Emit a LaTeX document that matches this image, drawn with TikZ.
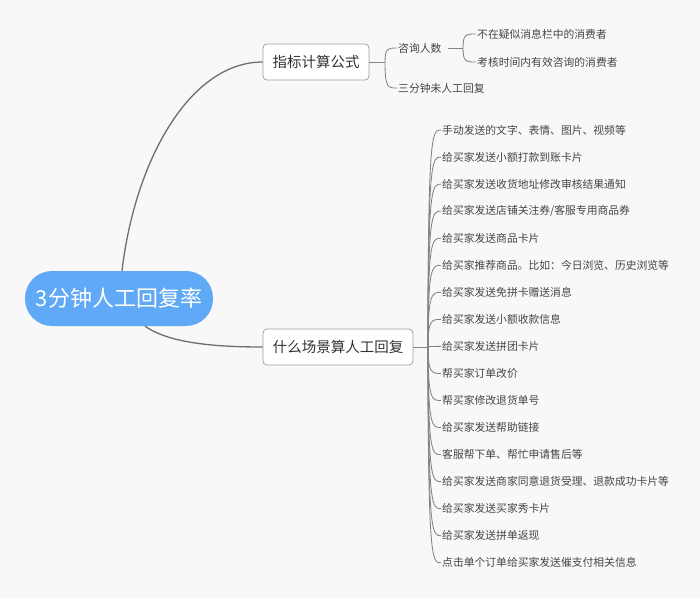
\documentclass[tikz,border=0pt]{standalone}
\usepackage{fontspec}
\setmainfont{Noto Sans CJK SC}
\definecolor{bg}{HTML}{F8F8F8}
\definecolor{rootblue}{HTML}{5FA9F6}
\definecolor{boxgray}{HTML}{A0A0A0}
\definecolor{linegray}{HTML}{6E6E6E}
\definecolor{textdark}{HTML}{333333}
\definecolor{textgray}{HTML}{454545}
\tikzset{
  rootnode/.style={fill=rootblue, rounded corners=27pt, minimum width=188pt, minimum height=55pt,
    text=white, font=\fontsize{22}{26}\selectfont, inner sep=0pt},
  topic/.style={draw=boxgray, fill=white, rounded corners=4pt, line width=0.8pt, minimum height=36pt,
    font=\fontsize{14.5}{17}\selectfont, text=textdark, inner xsep=0pt},
  leaf/.style={anchor=west, inner sep=1pt, font=\fontsize{10.8}{13}\selectfont, text=textgray},
  mainconn/.style={draw=linegray, line width=1.3pt},
  conn/.style={draw=linegray!85, line width=0.85pt},
}
\begin{document}
\begin{tikzpicture}[x=1pt,y=-1pt]
\fill[bg] (0,0) rectangle (700,598);
\useasboundingbox (0,0) rectangle (700,598);

\node[rootnode] (root) at (119,298.5) {3分钟人工回复率};
\node[topic, minimum width=106pt] (f) at (316,62) {指标计算公式};
\node[topic, minimum width=150pt] (s) at (338,347) {什么场景算人工回复};

\draw[mainconn] ([xshift=3pt]root.north) .. controls (135,160) and (190,62) .. (f.west);
\draw[mainconn] ([xshift=26pt]root.south) .. controls (165,340) and (200,347) .. (s.west);

% top branch
\coordinate (fj) at (385,62);
\node[leaf] (q) at (397,48) {咨询人数};
\node[leaf] (t) at (397,88) {三分钟未人工回复};
\draw[conn] (f.east) -- (fj);
\draw[conn] (fj) .. controls (385,48) and (388,48) .. (q.west);
\draw[conn] (fj) .. controls (385,88) and (388,88) .. (t.west);

\coordinate (qj) at (463,48);
\node[leaf] (q1) at (476,34) {不在疑似消息栏中的消费者};
\node[leaf] (q2) at (476,62) {考核时间内有效咨询的消费者};
\draw[conn, shorten <=5pt] (q.east) -- (qj);
\draw[conn] (qj) .. controls (463,34) and (466,34) .. (q1.west);
\draw[conn] (qj) .. controls (463,62) and (466,62) .. (q2.west);

% bottom branch
\coordinate (sj) at (428,347);
\draw[conn] (s.east) -- (sj);
\foreach \i/\txt in {
  0/{手动发送的文字、表情、图片、视频等},
  1/{给买家发送小额打款到账卡片},
  2/{给买家发送收货地址修改审核结果通知},
  3/{给买家发送店铺关注券/客服专用商品券},
  4/{给买家发送商品卡片},
  5/{给买家推荐商品。比如：今日浏览、历史浏览等},
  6/{给买家发送免拼卡赠送消息},
  7/{给买家发送小额收款信息},
  8/{给买家发送拼团卡片},
  9/{帮买家订单改价},
  10/{帮买家修改退货单号},
  11/{给买家发送帮助链接},
  12/{客服帮下单、帮忙申请售后等},
  13/{给买家发送商家同意退货受理、退款成功卡片等},
  14/{给买家发送买家秀卡片},
  15/{给买家发送拼单返现},
  16/{点击单个订单给买家发送催支付相关信息}}
{
  \pgfmathsetmacro{\yy}{130+27.05*\i}
  \node[leaf] (l\i) at (441,\yy) {\txt};
  \draw[conn] (sj) .. controls (428,\yy) and (432,\yy) .. (l\i.west);
}
\end{tikzpicture}
\end{document}
